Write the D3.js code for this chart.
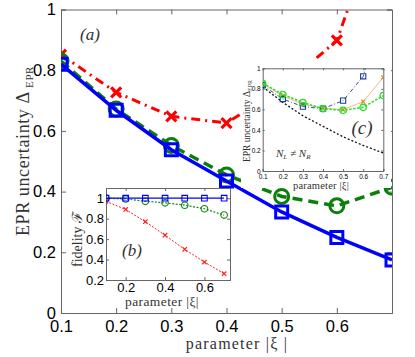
<!DOCTYPE html>
<html>
<head>
<meta charset="utf-8">
<script src="https://cdn.jsdelivr.net/npm/d3@7"></script>
<style>
  body { margin: 0; background: #fff; }
  svg { display: block; }
  .tick text { font-family: "Liberation Sans", Arial, sans-serif; fill: #000; }
  .serif { font-family: "Liberation Serif", "Times New Roman", serif; fill: #333; }
</style>
</head>
<body>
<div id="chart"></div>
<script>
// ---- data ----
var xi = [0.1, 0.2, 0.3, 0.4, 0.5, 0.6, 0.7];

// panel (a)
var eprBlue  = [0.82, 0.668, 0.538, 0.435, 0.333, 0.249, 0.175];
var eprGreen = [0.83, 0.672, 0.552, 0.455, 0.384, 0.353, 0.414];
var eprRed   = [0.851, 0.727, 0.648, 0.626, 0.74, 0.898, 1.41];

// panel (b) fidelity
var fidBlue  = [1.0, 1.0, 1.0, 1.0, 1.0, 1.0, 1.0];
var fidGreen = [1.0, 0.993, 0.97, 0.955, 0.932, 0.897, 0.835];
var fidRed   = [0.97, 0.89, 0.77, 0.638, 0.5, 0.376, 0.262];

// panel (c) N_L != N_R
var cNavy   = [0.834, 0.701, 0.627, 0.607, 0.685, 0.922, 1.6];
var cOrange = [0.85, 0.73, 0.65, 0.61, 0.598, 0.675, 0.912];
var cGreen  = [0.854, 0.745, 0.667, 0.607, 0.591, 0.62, 0.734];
var cBlack  = eprBlue;

var mainXTicks = [0.1, 0.2, 0.3, 0.4, 0.5, 0.6];
var mainYTicks = [0, 0.2, 0.4, 0.6, 0.8, 1];
var bXTicks = [0.2, 0.4, 0.6];
var bYTicks = [0.2, 0.4, 0.6, 0.8, 1];
var cXTicks = [0.1, 0.2, 0.3, 0.4, 0.5, 0.6, 0.7];
var cYTicks = [0, 0.2, 0.4, 0.6, 0.8, 1];

var W = 415, H = 357;
var svg = d3.select("#chart").append("svg")
    .attr("width", W).attr("height", H);

var fmt = function(d) { return d === 0 ? "0" : d === 1 ? "1" : d3.format(".1f")(d); };

// draws the box, ticks (inward) and clip path for one panel
function makePanel(id, x, y, xt, yt, fs, tl, pad) {
    var g = svg.append("g");
    var x0 = x.range()[0], x1 = x.range()[1], y0 = y.range()[0], y1 = y.range()[1];

    g.append("rect").attr("x", x0).attr("y", y1).attr("width", x1 - x0).attr("height", y0 - y1)
        .attr("fill", "#fff");

    svg.append("clipPath").attr("id", id).append("rect")
        .attr("x", x0).attr("y", y1).attr("width", x1 - x0).attr("height", y0 - y1);

    var bottom = g.append("g").attr("transform", "translate(0," + y0 + ")")
        .call(d3.axisBottom(x).tickValues(xt).tickSize(-tl).tickPadding(pad).tickFormat(fmt));
    var left = g.append("g").attr("transform", "translate(" + x0 + ",0)")
        .call(d3.axisLeft(y).tickValues(yt).tickSize(-tl).tickPadding(pad).tickFormat(fmt));
    g.append("g").attr("transform", "translate(0," + y1 + ")")
        .call(d3.axisTop(x).tickValues(xt).tickSize(-tl).tickFormat(""));
    g.append("g").attr("transform", "translate(" + x1 + ",0)")
        .call(d3.axisRight(y).tickValues(yt).tickSize(-tl).tickFormat(""));

    g.selectAll(".domain").attr("stroke", "#666").attr("stroke-width", 1);
    g.selectAll(".tick line").attr("stroke", "#666");
    g.selectAll(".tick text").style("font-size", fs + "px");
    return { g: g, bottom: bottom, left: left };
}

function drawSeries(layer, x, y, vals, o) {
    var pts = xi.map(function(d, i) { return [d, vals[i]]; });
    var line = d3.line().x(function(d) { return x(d[0]); }).y(function(d) { return y(d[1]); });
    layer.append("path").datum(pts)
        .attr("d", line)
        .attr("fill", "none")
        .attr("stroke", o.color)
        .attr("stroke-width", o.lw)
        .attr("stroke-dasharray", o.dash || null);
    if (!o.marker) return;
    var s = o.size;
    layer.selectAll(null).data(pts).enter().append("path")
        .attr("transform", function(d) { return "translate(" + x(d[0]) + "," + y(d[1]) + ")"; })
        .attr("d", function() {
            if (o.marker === "square") return "M" + (-s) + "," + (-s) + "H" + s + "V" + s + "H" + (-s) + "Z";
            if (o.marker === "circle") return d3.arc()({innerRadius: 0, outerRadius: s, startAngle: 0, endAngle: 2 * Math.PI});
            return "M" + (-s) + "," + (-s) + "L" + s + "," + s + "M" + (-s) + "," + s + "L" + s + "," + (-s);
        })
        .attr("fill", "none")
        .attr("stroke", o.mcolor || o.color)
        .attr("stroke-width", o.mw || o.lw);
}

// ---------------- panel (a) ----------------
var xA = d3.scaleLinear().domain([0.1, 0.7]).range([61, 392]);
var yA = d3.scaleLinear().domain([0, 1]).range([313, 9.5]);
var pA = makePanel("clipA", xA, yA, mainXTicks, mainYTicks, 16.5, 5, 4);
pA.bottom.selectAll(".tick text").attr("dy", "0.88em");
pA.left.selectAll(".tick text").attr("dx", "-1px");

var layerA = svg.append("g").attr("clip-path", "url(#clipA)");
drawSeries(layerA, xA, yA, eprRed,   {color: "#ff0000", lw: 3, dash: "9,5,2,5", marker: "x", size: 5, mw: 3.2});
drawSeries(layerA, xA, yA, eprGreen, {color: "#0a800a", lw: 3.5, dash: "10,6", marker: "circle", size: 7, mw: 3});
drawSeries(layerA, xA, yA, eprBlue,  {color: "#0000ff", lw: 3.5, marker: "square", size: 6, mw: 3});

svg.append("text").attr("class", "serif").attr("x", 90).attr("y", 40)
    .attr("text-anchor", "middle").style("font-size", "17px").style("font-style", "italic").text("(a)");

svg.append("text").attr("class", "serif")
    .attr("x", 237).attr("y", 349).attr("text-anchor", "middle")
    .style("font-size", "16px").style("letter-spacing", "1.2px")
    .text("parameter |ξ  |");

var yl = svg.append("text").attr("class", "serif")
    .attr("transform", "translate(29,151) rotate(-90)")
    .attr("text-anchor", "middle")
    .style("font-size", "18px").style("letter-spacing", "0.6px");
yl.append("tspan").text("EPR uncertainty Δ");
yl.append("tspan").attr("dy", 4).style("font-size", "11px").text(" EPR");

// ---------------- panel (c) ----------------
svg.append("rect").attr("x", 241).attr("y", 60).attr("width", 150).attr("height", 128).attr("fill", "#fff");
var xC = d3.scaleLinear().domain([0.1, 0.7]).range([262.7, 383.3]);
var yC = d3.scaleLinear().domain([0, 1]).range([171, 68.3]);
var pC = makePanel("clipC", xC, yC, cXTicks, cYTicks, 6.5, 2, 2);
pC.bottom.selectAll(".tick text").attr("dy", "0.9em");

var layerC = svg.append("g").attr("clip-path", "url(#clipC)");
drawSeries(layerC, xC, yC, cBlack,  {color: "#111", lw: 1.3, dash: "2,2"});
drawSeries(layerC, xC, yC, cOrange, {color: "#f5b070", lw: 0.9, marker: "x", size: 2, mcolor: "#e08020", mw: 1.2});
drawSeries(layerC, xC, yC, cNavy,   {color: "#1c3c90", lw: 0.9, dash: "4,2,1,2", marker: "square", size: 2.6, mw: 1.1});
drawSeries(layerC, xC, yC, cGreen,  {color: "#22e022", lw: 1.5, dash: "2.5,1.5", marker: "circle", size: 3.2, mw: 1.2});

svg.append("text").attr("class", "serif").attr("x", 362).attr("y", 134)
    .attr("text-anchor", "middle").style("font-size", "19px").style("font-style", "italic").text("(c)");

var nl = svg.append("text").attr("class", "serif").attr("x", 276).attr("y", 157)
    .style("font-size", "11px").style("font-style", "italic");
nl.append("tspan").text("N");
nl.append("tspan").attr("dy", 2).style("font-size", "7px").text("L");
nl.append("tspan").attr("dy", -2).text(" ≠ N");
nl.append("tspan").attr("dy", 2).style("font-size", "7px").text("R");

svg.append("text").attr("class", "serif")
    .attr("x", 321).attr("y", 189).attr("text-anchor", "middle")
    .style("font-size", "10.5px").style("letter-spacing", "0.2px")
    .text("parameter |ξ|");

var ycl = svg.append("text").attr("class", "serif")
    .attr("transform", "translate(250,121) rotate(-90)")
    .attr("text-anchor", "middle")
    .style("font-size", "9.5px");
ycl.append("tspan").text("EPR uncertainty Δ");
ycl.append("tspan").attr("dy", 2).style("font-size", "6px").text("EPR");

// ---------------- panel (b) ----------------
var xB = d3.scaleLinear().domain([0.1, 0.73]).range([106, 230]);
var yB = d3.scaleLinear().domain([0.2, 1.1]).range([280, 188]);
var pB = makePanel("clipB", xB, yB, bXTicks, bYTicks, 13, 3, 2);
pB.bottom.selectAll(".tick text").attr("dy", "0.8em");

var layerB = svg.append("g").attr("clip-path", "url(#clipB)");
drawSeries(layerB, xB, yB, fidRed,   {color: "#ff2020", lw: 1, dash: "2,1.5", marker: "x", size: 2.2, mw: 1.2});
drawSeries(layerB, xB, yB, fidGreen, {color: "#118811", lw: 1.2, dash: "2,1.5", marker: "circle", size: 3.3, mw: 1.1});
drawSeries(layerB, xB, yB, fidBlue,  {color: "#0000ff", lw: 1.3, marker: "square", size: 2.8, mw: 1.1});

svg.append("text").attr("class", "serif").attr("x", 132).attr("y", 256)
    .attr("text-anchor", "middle").style("font-size", "17px").style("font-style", "italic").text("(b)");

svg.append("text").attr("class", "serif")
    .attr("x", 162).attr("y", 306).attr("text-anchor", "middle")
    .style("font-size", "13.5px").style("letter-spacing", "0.4px")
    .text("parameter  |ξ|");

svg.append("text").attr("class", "serif")
    .attr("transform", "translate(82,239) rotate(-90)")
    .attr("text-anchor", "middle")
    .style("font-size", "14px")
    .text("fidelity ℱ");
</script>
</body>
</html>
